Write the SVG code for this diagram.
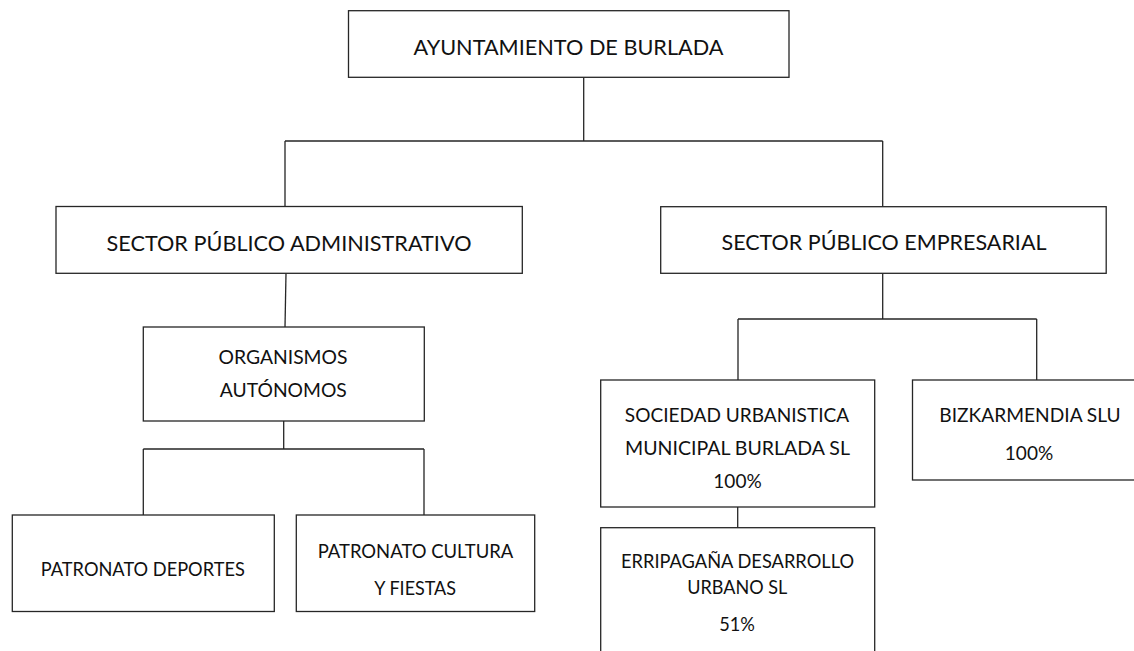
<svg xmlns="http://www.w3.org/2000/svg" width="1134" height="651" viewBox="0 0 1134 651">
<style>
.box{fill:#fff;stroke:#262626;stroke-width:1.3}
.c{fill:none;stroke:#262626;stroke-width:1.3}
text{font-family:Lato,"Liberation Sans",Arial,sans-serif;fill:#111;text-anchor:middle}
.lg{font-size:21.3px}
.sm{font-size:19.5px}
</style>
<rect width="1134" height="651" fill="#fff"/>
<g id="connectors">
<path class="c" d="M583.7,77.3V141M285,141H882.7M285,141V206.5M882.7,141V206.7"/>
<path class="c" d="M286,273.3L285,327"/>
<path class="c" d="M283.7,421V449M143.3,449H424M143.3,449V515M424,449V515"/>
<path class="c" d="M882.7,273.3V319M738,319H1036.7M738,319V380M1036.7,319V380"/>
<path class="c" d="M737.7,507V527.7"/>
</g>
<g id="ayuntamiento">
<rect class="box" x="348.5" y="10.7" width="440.5" height="66.6"/>
<text class="lg" x="568.5" y="55" textLength="310" lengthAdjust="spacingAndGlyphs">AYUNTAMIENTO DE BURLADA</text>
</g>
<g id="sector-administrativo">
<rect class="box" x="56" y="206.5" width="466.3" height="66.8"/>
<text class="lg" x="289" y="250.7" textLength="365" lengthAdjust="spacingAndGlyphs">SECTOR PÚBLICO ADMINISTRATIVO</text>
</g>
<g id="sector-empresarial">
<rect class="box" x="660.7" y="206.7" width="445.5" height="66.6"/>
<text class="lg" x="884" y="250.3" textLength="325" lengthAdjust="spacingAndGlyphs">SECTOR PÚBLICO EMPRESARIAL</text>
</g>
<g id="organismos">
<rect class="box" x="143.3" y="327" width="281" height="94"/>
<text class="sm" x="283" y="364.3" textLength="129" lengthAdjust="spacingAndGlyphs">ORGANISMOS</text>
<text class="sm" x="283.3" y="396.7" textLength="127" lengthAdjust="spacingAndGlyphs">AUTÓNOMOS</text>
</g>
<g id="patronato-deportes">
<rect class="box" x="12.3" y="515" width="262" height="96.5"/>
<text class="sm" x="142.8" y="576" textLength="204" lengthAdjust="spacingAndGlyphs">PATRONATO DEPORTES</text>
</g>
<g id="patronato-cultura">
<rect class="box" x="296.3" y="515" width="238.4" height="96.5"/>
<text class="sm" x="415.5" y="558.3" textLength="195.6" lengthAdjust="spacingAndGlyphs">PATRONATO CULTURA</text>
<text class="sm" x="415.2" y="595" textLength="81.7" lengthAdjust="spacingAndGlyphs">Y FIESTAS</text>
</g>
<g id="sociedad-urbanistica">
<rect class="box" x="600.7" y="380" width="274" height="127"/>
<text class="sm" x="737" y="422.3" textLength="224.3" lengthAdjust="spacingAndGlyphs">SOCIEDAD URBANISTICA</text>
<text class="sm" x="737.5" y="455" textLength="225" lengthAdjust="spacingAndGlyphs">MUNICIPAL BURLADA SL</text>
<text class="sm" x="737.5" y="487.7" textLength="48.4" lengthAdjust="spacingAndGlyphs">100%</text>
</g>
<g id="bizkarmendia">
<rect class="box" x="912.5" y="380" width="235" height="100"/>
<text class="sm" x="1030" y="422.3" textLength="181.4" lengthAdjust="spacingAndGlyphs">BIZKARMENDIA SLU</text>
<text class="sm" x="1029" y="460" textLength="48.4" lengthAdjust="spacingAndGlyphs">100%</text>
</g>
<g id="erripagana">
<rect class="box" x="600.7" y="527.7" width="274" height="130"/>
<text class="sm" x="737.5" y="567.7" textLength="233" lengthAdjust="spacingAndGlyphs">ERRIPAGAÑA DESARROLLO</text>
<text class="sm" x="737.3" y="594" textLength="100" lengthAdjust="spacingAndGlyphs">URBANO SL</text>
<text class="sm" x="737" y="631" textLength="35.7" lengthAdjust="spacingAndGlyphs">51%</text>
</g>
</svg>
